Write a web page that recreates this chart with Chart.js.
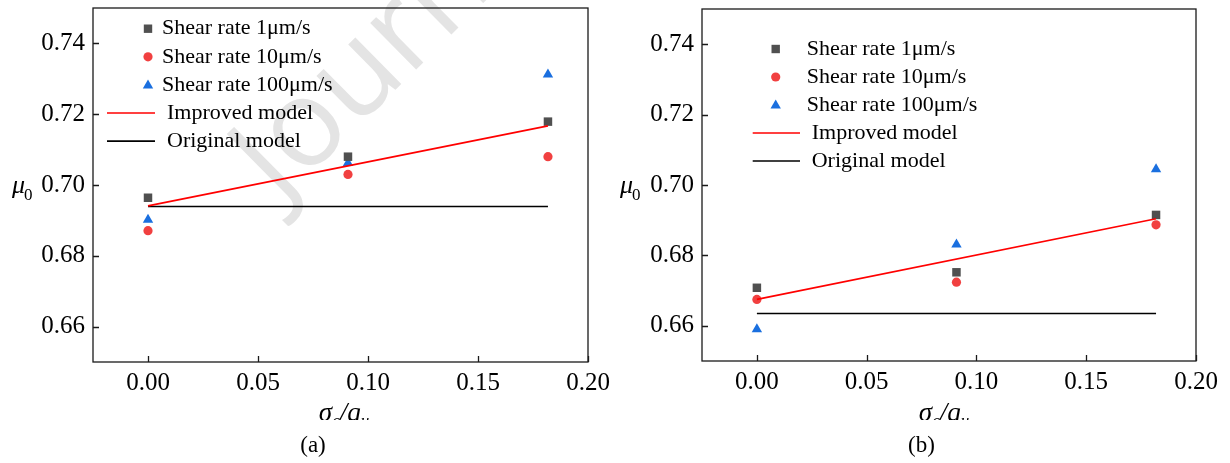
<!DOCTYPE html>
<html>
<head>
<meta charset="utf-8">
<script src="https://cdn.jsdelivr.net/npm/chart.js@4/dist/chart.umd.min.js"></script>
<style>
  body { margin: 0; background: #fff; }
  #wrap { position: relative; width: 1230px; height: 463px; }
  canvas { position: absolute; top: 0; }
</style>
</head>
<body>
<div id="wrap">
  <canvas id="chartA" width="610" height="463" style="left:0"></canvas>
  <canvas id="chartB" width="620" height="463" style="left:610px"></canvas>
</div>
<script>
// sigma_c / q_u positions
const xVals = [0, 0.0909, 0.1818];
const lineX = [0, 0.1818];
const xTicks = [0, 0.05, 0.10, 0.15, 0.20];
const yTicks = [0.66, 0.68, 0.70, 0.72, 0.74];

// panel (a)
const aRate1 = [0.6964, 0.7080, 0.7179];
const aRate10 = [0.6871, 0.7030, 0.7080];
const aRate100 = [0.6902, 0.7062, 0.7312];
const aImproved = [0.6941, 0.7167];
const aOriginal = [0.6939, 0.6939];

// panel (b)
const bRate1 = [0.6708, 0.6752, 0.6915];
const bRate10 = [0.6675, 0.6724, 0.6887];
const bRate100 = [0.6590, 0.6831, 0.7045];
const bImproved = [0.6675, 0.6904];
const bOriginal = [0.6635, 0.6635];

const labels = ["Shear rate 1\u03bcm/s", "Shear rate 10\u03bcm/s", "Shear rate 100\u03bcm/s", "Improved model", "Original model"];
const SERIF = "'Liberation Serif', 'Times New Roman', serif";

function pts(xs, ys) { return xs.map((x, i) => ({ x: x, y: ys[i] })); }

function makeDatasets(r1, r10, r100, imp, orig) {
  return [
    { label: labels[0], data: pts(xVals, r1), pointStyle: "rect", pointRadius: 6, backgroundColor: "#505050", borderWidth: 0, showLine: false, order: 1 },
    { label: labels[1], data: pts(xVals, r10), pointStyle: "circle", pointRadius: 4.6, backgroundColor: "#F14040", borderWidth: 0, showLine: false, order: 1 },
    { label: labels[2], data: pts(xVals, r100), pointStyle: "triangle", pointRadius: 6, backgroundColor: "#1A6FDF", borderWidth: 0, showLine: false, order: 1 },
    { label: labels[3], data: pts(lineX, imp), showLine: true, borderColor: "#FF0000", borderWidth: 1.6, pointRadius: 0, order: 0 },
    { label: labels[4], data: pts(lineX, orig), showLine: true, borderColor: "#000000", borderWidth: 1.5, pointRadius: 0, order: 0 }
  ];
}

// box, inward ticks, legend, axis titles
const decorPlugin = {
  id: "decor",
  beforeDatasetsDraw(chart) {
    const o = chart.options.plugins.decor;
    const ctx = chart.ctx;
    if (o.watermark) {
      ctx.save();
      ctx.translate(o.watermark.x, o.watermark.y);
      ctx.rotate(o.watermark.angle);
      ctx.fillStyle = "#e4e4e4";
      ctx.font = "400 122px 'Open Sans', sans-serif";
      ctx.textBaseline = "alphabetic";
      ctx.fillText("Journal Pre-proof", 0, 0);
      ctx.restore();
    }
  },
  afterDraw(chart) {
    const o = chart.options.plugins.decor;
    const ctx = chart.ctx;
    const a = chart.chartArea;
    const xs = chart.scales.x, ys = chart.scales.y;
    ctx.save();
    ctx.strokeStyle = "#1a1a1a";
    ctx.lineWidth = 1.3;
    ctx.strokeRect(a.left, a.top, a.right - a.left, a.bottom - a.top);
    ctx.beginPath();
    xTicks.forEach(v => {
      const px = Math.round(xs.getPixelForValue(v)) + 0.5;
      ctx.moveTo(px, a.bottom); ctx.lineTo(px, a.bottom - 6);
    });
    yTicks.forEach(v => {
      const py = Math.round(ys.getPixelForValue(v)) + 0.5;
      ctx.moveTo(a.left, py); ctx.lineTo(a.left + 6, py);
    });
    ctx.stroke();

    // legend
    const L = o.legend;
    ctx.font = "22px " + SERIF;
    ctx.textBaseline = "middle";
    ctx.textAlign = "left";
    chart.data.datasets.forEach((ds, i) => {
      const y = L.y0 + i * L.dy;
      if (ds.showLine) {
        ctx.strokeStyle = ds.borderColor;
        ctx.lineWidth = 1.6;
        ctx.beginPath();
        ctx.moveTo(L.lineX0, y); ctx.lineTo(L.lineX1, y);
        ctx.stroke();
        ctx.fillStyle = "#000";
        ctx.fillText(ds.label, L.lineTextX, y);
      } else {
        ctx.fillStyle = ds.backgroundColor;
        ctx.beginPath();
        if (ds.pointStyle === "rect") {
          ctx.rect(L.markerX - 4.2, y - 4.2, 8.4, 8.4);
        } else if (ds.pointStyle === "circle") {
          ctx.arc(L.markerX, y, 4.6, 0, Math.PI * 2);
        } else {
          ctx.moveTo(L.markerX, y - 5.5);
          ctx.lineTo(L.markerX + 5.2, y + 3.5);
          ctx.lineTo(L.markerX - 5.2, y + 3.5);
          ctx.closePath();
        }
        ctx.fill();
        ctx.fillStyle = "#000";
        ctx.fillText(ds.label, L.markerTextX, y);
      }
    });

    // y title mu_0
    ctx.fillStyle = "#000";
    ctx.textBaseline = "alphabetic";
    ctx.font = "italic 26px " + SERIF;
    ctx.fillText("\u03bc", o.muX, 193);
    const mw = ctx.measureText("\u03bc").width;
    ctx.font = "17px " + SERIF;
    ctx.fillText("0", o.muX + mw - 1, 200);

    // x title sigma_c / q_u (cut at the bottom as in the source)
    ctx.save();
    ctx.beginPath();
    ctx.rect(0, 380, chart.width, 40);
    ctx.clip();
    const big = "italic 27px " + SERIF, small = "italic 17px " + SERIF;
    const parts = [["\u03c3", big, 0], ["c", small, 5], ["/", big, 0], ["q", big, 0], ["u", small, 5]];
    let total = 0;
    parts.forEach(p => { ctx.font = p[1]; total += ctx.measureText(p[0]).width; });
    let cx = o.titleX - total / 2;
    parts.forEach(p => {
      ctx.font = p[1];
      ctx.fillText(p[0], cx, 421 + p[2]);
      cx += ctx.measureText(p[0]).width;
    });
    ctx.restore();

    ctx.font = "23px " + SERIF;
    ctx.textAlign = "center";
    ctx.textBaseline = "middle";
    ctx.fillText(o.panel, o.panelX, 446);
    ctx.restore();
  }
};

function noPad(s) {
  s.paddingTop = 0; s.paddingBottom = 0; s.paddingLeft = 0; s.paddingRight = 0;
}

function makeChart(id, datasets, pad, yWidth, decor) {
  return new Chart(document.getElementById(id), {
    type: "scatter",
    data: { datasets: datasets },
    plugins: [decorPlugin],
    options: {
      responsive: false,
      animation: false,
      layout: { padding: pad },
      plugins: { legend: { display: false }, tooltip: { enabled: false }, decor: decor },
      scales: {
        x: {
          type: "linear", min: -0.025, max: 0.2,
          afterBuildTicks: s => { s.ticks = xTicks.map(v => ({ value: v })); },
          afterFit: s => { s.height = 38; noPad(s); },
          grid: { display: false, drawTicks: false },
          border: { display: false },
          ticks: { color: "#000", padding: 6, font: { family: SERIF, size: 25 }, callback: v => v.toFixed(2) }
        },
        y: {
          type: "linear", min: 0.65, max: 0.75,
          afterBuildTicks: s => { s.ticks = yTicks.map(v => ({ value: v })); },
          afterFit: s => { s.width = yWidth; noPad(s); },
          grid: { display: false, drawTicks: false },
          border: { display: false },
          ticks: { color: "#000", padding: 8, font: { family: SERIF, size: 25 }, callback: v => v.toFixed(2) }
        }
      }
    }
  });
}

makeChart("chartA", makeDatasets(aRate1, aRate10, aRate100, aImproved, aOriginal),
  { top: 8, right: 22, bottom: 63, left: 0 }, 93,
  {
    legend: { y0: 28.7, dy: 28.1, markerX: 148, markerTextX: 162, lineX0: 107, lineX1: 155, lineTextX: 167 },
    muX: 12, titleX: 344, panel: "(a)", panelX: 313,
    watermark: { x: 280, y: 204, angle: -0.78 }
  });

makeChart("chartB", makeDatasets(bRate1, bRate10, bRate100, bImproved, bOriginal),
  { top: 9, right: 34, bottom: 64, left: 0 }, 92,
  {
    legend: { y0: 49, dy: 28, markerX: 165.7, markerTextX: 196.7, lineX0: 142.7, lineX1: 190, lineTextX: 201.7 },
    muX: 10, titleX: 334, panel: "(b)", panelX: 311.5
  });
</script>
</body>
</html>
